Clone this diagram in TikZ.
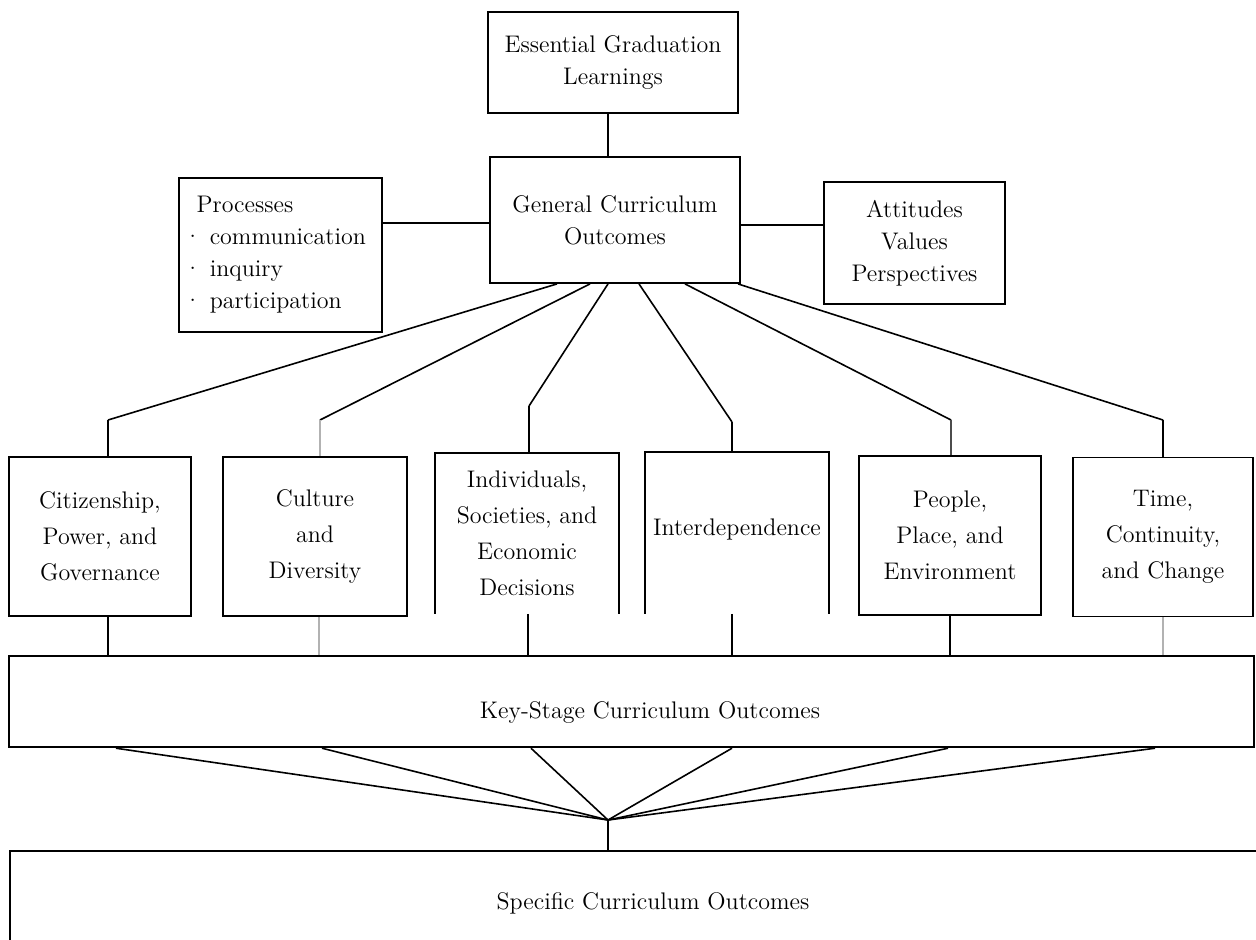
\documentclass[tikz,border=0pt]{standalone}
\usepackage{tikz}
\usetikzlibrary{positioning}

\begin{document}
\begin{tikzpicture}[x=0.5pt,y=-0.5pt,line width=0.8pt,
    box/.style={draw,line width=0.9pt,align=center,inner sep=2pt,font=\fontsize{12}{16}\selectfont},
    topic/.style={box,minimum width=91pt,minimum height=79.5pt,font=\fontsize{12}{18}\selectfont},
    openbox/.style={topic,draw=none},
    faint/.style={draw=black!30}]
  \useasboundingbox (0,0) rectangle (1256,939);

  \node[box,minimum width=125pt,minimum height=50.5pt] (egl) at (613,62.5) {Essential Graduation\\Learnings};
  \node[box,minimum width=125pt,minimum height=63pt] (gco) at (615,220) {General Curriculum\\Outcomes};
  \node[box,align=left,text width=97pt,inner xsep=2.25pt,minimum height=77pt] (proc) at (280.5,255)
    {\hspace{0.55em}Processes\\ \textperiodcentered\ communication\\ \textperiodcentered\ inquiry\\ \textperiodcentered\ participation};
  \node[box,minimum width=90.5pt,minimum height=61pt] (att) at (914.5,243) {Attitudes\\Values\\Perspectives};

  % the six strands
  \node[topic] (cit) at (100,536.5) {Citizenship,\\Power, and\\Governance};
  \node[topic,minimum width=92pt] (cul) at (315,536.5) {Culture\\and\\Diversity};
  \node[openbox] (ind) at (527,533.5) {Individuals,\\Societies, and\\Economic\\Decisions};
  \node[openbox,minimum height=80pt] (inter) at (737,533) {\raisebox{6pt}{Interdependence}};
  \node[topic] (ppl) at (950,535.5) {People,\\Place, and\\Environment};
  \node[topic,minimum width=90pt] (time) at (1163,537) {Time,\\Continuity,\\and Change};

  \node[box,line width=1.2pt,minimum width=622.5pt,minimum height=45.5pt] (ks) at (631.5,701.5) {};
  \node[font=\fontsize{12}{16}\selectfont] (kslabel) at (650,712) {Key-Stage Curriculum Outcomes};
  \node[box,draw=none,minimum width=622.5pt,minimum height=43.5pt] (sco) at (633.5,895.5) {};
  \node[font=\fontsize{12}{16}\selectfont] (scolabel) at (653,903) {Specific Curriculum Outcomes};

  \coordinate (k1) at (108,420);
  \coordinate (k2) at (320,420);
  \coordinate (k3) at (529,406);
  \coordinate (k4) at (732,422);
  \coordinate (k5) at (951,420);
  \coordinate (k6) at (1163,420);
  \coordinate (hub) at (608,820);

  \draw (ind.south west) -- (ind.north west) -- (ind.north east) -- (ind.south east);
  \draw (inter.south west) -- (inter.north west) -- (inter.north east) -- (inter.south east);
  \draw[line width=0.9pt] (sco.south west) -- (sco.north west) -- (sco.north east);

  \draw (egl.south -| 608,0) -- (gco.north -| 608,0);
  \draw (proc.east |- 0,223) -- (gco.west |- 0,223);
  \draw (gco.east |- 0,225) -- (att.west |- 0,225);

  \foreach \x/\k in {557/k1,590/k2,608/k3,639/k4,685/k5,738/k6}
    \draw (gco.south -| \x,0) -- (\k);
  \draw (k1) -- (k1 |- cit.north);
  \draw[faint] (k2) -- (k2 |- cul.north);
  \draw (k3) -- (k3 |- ind.north);
  \draw (k4) -- (k4 |- inter.north);
  \draw[draw=black!70] (k5) -- (k5 |- ppl.north);
  \draw (k6) -- (k6 |- time.north);

  \draw (k1 |- cit.south) -- (k1 |- ks.north);
  \draw[faint] (cul.south -| 319,0) -- (ks.north -| 319,0);
  \draw (ind.south -| 528,0) -- (ks.north -| 528,0);
  \draw (k4 |- inter.south) -- (k4 |- ks.north);
  \draw (ppl.south -| 950,0) -- (ks.north -| 950,0);
  \draw[faint] (k6 |- time.south) -- (k6 |- ks.north);

  \foreach \x in {116,322,531,732,948,1155}
    \draw (ks.south -| \x,0) -- (hub);
  \draw (hub) -- (hub |- sco.north);
\end{tikzpicture}
\end{document}
